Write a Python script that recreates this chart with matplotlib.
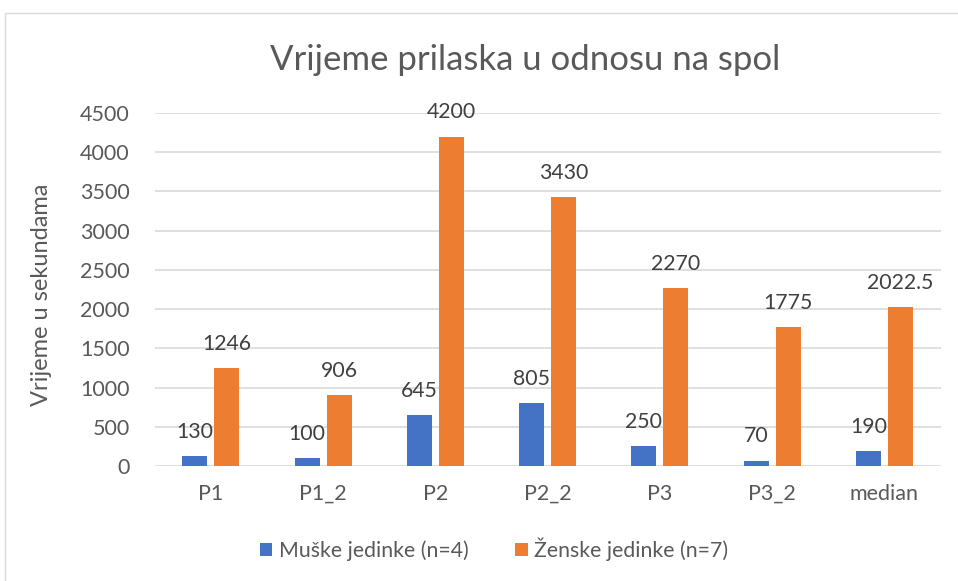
import matplotlib
matplotlib.use("Agg")
import matplotlib.pyplot as plt
from matplotlib.patches import Rectangle
import numpy as np

# chart data
categories = ["P1", "P1_2", "P2", "P2_2", "P3", "P3_2", "median"]
male_times = [130, 100, 645, 805, 250, 70, 190]
female_times = [1246, 906, 4200, 3430, 2270, 1775, 2022.5]
male_label = "Muške jedinke (n=4)"
female_label = "Ženske jedinke (n=7)"

BLUE = "#4472C4"
ORANGE = "#ED7D31"
GREY_TXT = "#595959"
GRID = "#D9D9D9"

plt.rcParams["font.family"] = ["Lato", "DejaVu Sans"]

fig = plt.figure(figsize=(9.58, 5.81), dpi=100)
ax = fig.add_axes([154.7 / 958, 115 / 581, 785.9 / 958, 353 / 581])

x = np.arange(len(categories))
w = 0.2226
off = 0.1425
b1 = ax.bar(x - off, male_times, w, color=BLUE, label=male_label, zorder=3)
b2 = ax.bar(x + off, female_times, w, color=ORANGE, label=female_label, zorder=3)

for bars, vals in ((b1, male_times), (b2, female_times)):
    for rect, v in zip(bars, vals):
        txt = f"{v:g}"
        ax.annotate(txt, (rect.get_x() + rect.get_width() / 2, rect.get_height()),
                    xytext=(0, 13), textcoords="offset points",
                    ha="center", va="baseline", fontsize=15.3, color="#404040")

ax.set_xlim(-0.5, len(categories) - 0.5)
ax.set_ylim(0, 4500)
ax.set_yticks(range(0, 4501, 500))
ax.set_xticks(x)
ax.set_xticklabels(categories)
ax.tick_params(axis="both", length=0, labelsize=15.5, labelcolor=GREY_TXT)
ax.tick_params(axis="x", pad=13)
ax.tick_params(axis="y", pad=18)
ax.grid(axis="y", color=GRID, linewidth=1.2, zorder=0)
for s in ax.spines.values():
    s.set_visible(False)

fig.text(525 / 958, 1 - 60 / 581, "Vrijeme prilaska u odnosu na spol",
         ha="center", va="center", fontsize=25, color=GREY_TXT)
fig.text(42 / 958, 1 - 295 / 581, "Vrijeme u sekundama", rotation=90,
         ha="center", va="center", fontsize=17, color=GREY_TXT)

fig.legend(loc="center", bbox_to_anchor=(494 / 958, 1 - 549 / 581), ncol=2,
           frameon=False, fontsize=15.3, labelcolor=GREY_TXT,
           handlelength=0.6, handleheight=0.6, handletextpad=0.3,
           columnspacing=2.2)

fig.add_artist(Rectangle((5 / 958, -0.1), 2, 1 - 13 / 581 + 0.1,
                         transform=fig.transFigure, fill=False,
                         edgecolor=GRID, linewidth=1))

fig.savefig("out.png", dpi=100)
